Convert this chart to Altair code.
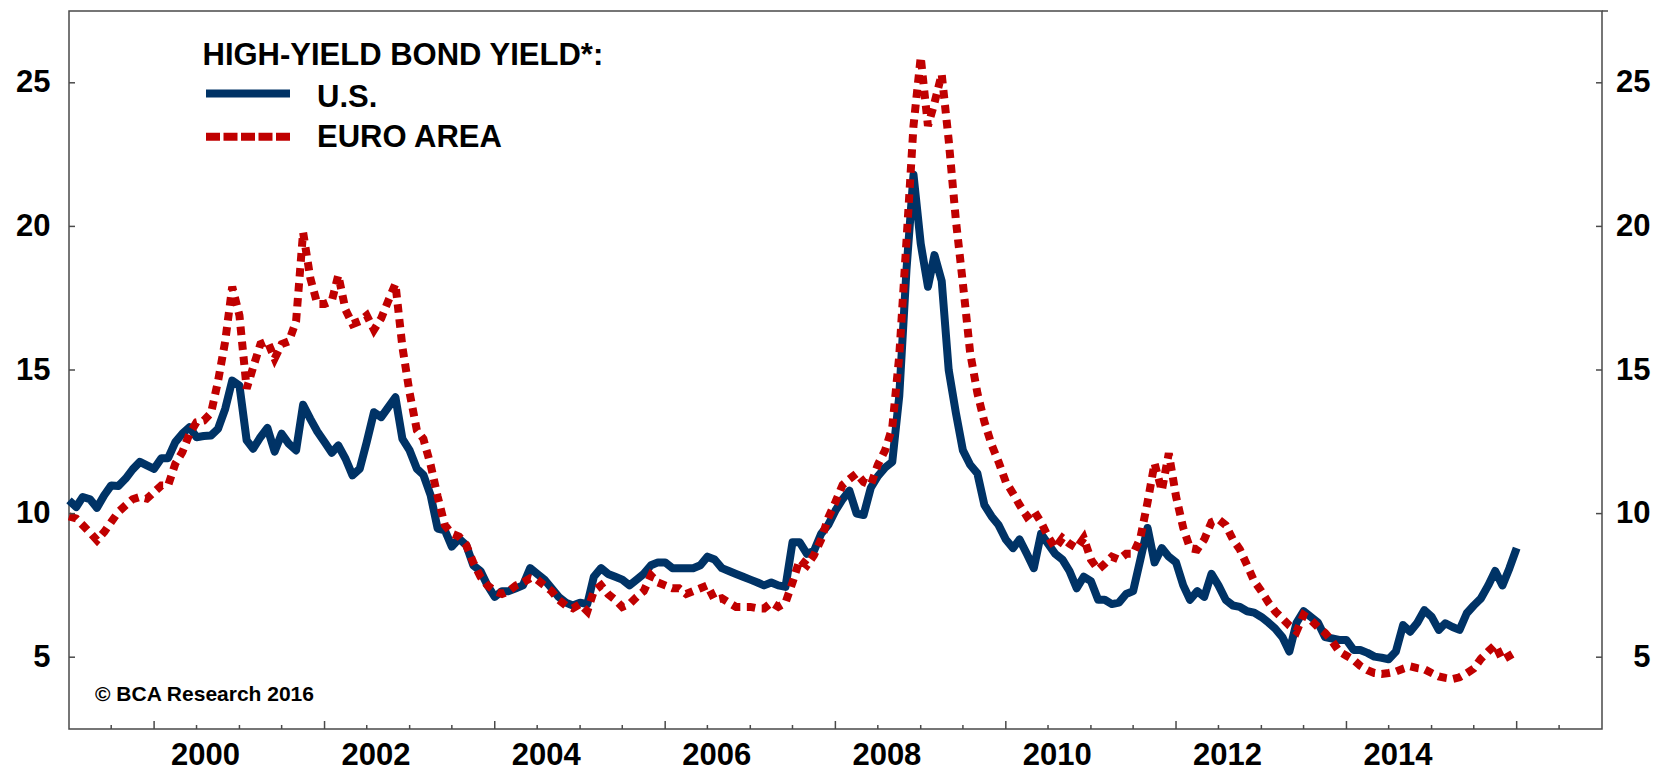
import altair as alt
import pandas as pd

# ---------------- data ----------------
START = "1999-01-01"          # first monthly observation
SERIES = ["U.S.", "EURO AREA"]
COLORS = ["#003366", "#C00000"]

us_yield = [
    10.46, 10.23, 10.58, 10.5, 10.2, 10.64, 10.98, 10.96, 11.22, 11.54,
    11.8, 11.68, 11.56, 11.93, 11.93, 12.49, 12.78, 13.01, 12.66, 12.7,
    12.72, 12.95, 13.65, 14.63, 14.46, 12.55, 12.26, 12.66, 12.98, 12.16,
    12.78, 12.43, 12.2, 13.79, 13.3, 12.86, 12.49, 12.12, 12.37, 11.91,
    11.33, 11.56, 12.49, 13.53, 13.36, 13.7, 14.05, 12.6, 12.2, 11.56,
    11.35, 10.64, 9.48, 9.42, 8.85, 9.13,
    8.9, 8.2, 8.0, 7.5, 7.1, 7.3, 7.3, 7.4, 7.5, 8.1,
    7.9, 7.7, 7.4, 7.1, 6.9, 6.8, 6.9, 6.85, 7.8, 8.1,
    7.9, 7.8, 7.7, 7.5, 7.7, 7.9, 8.2, 8.3, 8.3, 8.1,
    8.1, 8.1, 8.1, 8.2, 8.5, 8.4, 8.1, 8.0, 7.9, 7.8,
    7.7, 7.6, 7.5, 7.6, 7.5, 7.45, 9.0, 9.0, 8.6, 8.7,
    9.3, 9.6, 10.1, 10.5, 10.8, 10.0, 9.95, 10.9, 11.3, 11.6,
    11.8, 14.1, 18.5, 21.8,
    19.4, 17.9, 19.0, 18.1, 15.0, 13.5, 12.2, 11.7, 11.4, 10.3,
    9.9, 9.6, 9.1, 8.8, 9.1, 8.6, 8.1, 9.3, 8.95, 8.6,
    8.4, 8.0, 7.4, 7.8, 7.65, 7.0, 7.0, 6.85, 6.9, 7.2,
    7.3, 8.4, 9.5, 8.3, 8.8, 8.5, 8.3, 7.5, 7.0, 7.3,
    7.1, 7.9, 7.5, 7.0, 6.8, 6.75, 6.6, 6.55, 6.4, 6.2,
    6.0, 5.7, 5.2, 6.2, 6.6, 6.4, 6.2, 5.7, 5.65, 5.6,
    5.6, 5.25, 5.25, 5.15, 5.02, 4.98, 4.93, 5.2, 6.12, 5.89,
    6.2, 6.64, 6.41, 5.95, 6.18, 6.05, 5.95, 6.53, 6.8, 7.05,
    7.5, 8.0, 7.5, 8.1, 8.8,
]

euro_yield = [
    9.9, 9.83, 9.6, 9.34, 9.07, 9.36, 9.71, 10.06, 10.29, 10.5,
    10.58, 10.52, 10.75, 10.98, 10.98, 11.74, 12.14, 12.78, 13.18, 13.24,
    13.5, 14.6, 16.0, 17.9, 16.9, 14.35, 15.1, 15.9, 16.0, 15.4,
    15.9, 16.0, 16.7, 19.8, 18.2, 17.3, 17.3, 17.4, 18.3, 17.1,
    16.6, 16.7, 16.9, 16.4, 16.8, 17.4, 18.0, 15.8, 14.2, 12.9,
    12.6, 11.7, 10.6, 9.6, 9.3, 9.2,
    8.9, 8.3, 7.8, 7.5, 7.3, 7.2, 7.3, 7.5, 7.6, 7.75,
    7.7, 7.5, 7.3, 7.0, 6.8, 6.7, 6.85, 6.6, 7.3, 7.5,
    7.2, 7.0, 6.75, 6.85, 7.1, 7.3, 7.85, 7.6, 7.5, 7.4,
    7.4, 7.2, 7.3, 7.4, 7.5, 7.0, 7.05, 6.9, 6.75, 6.75,
    6.75, 6.7, 6.7, 6.9, 6.75, 6.9, 7.6, 8.4, 8.2, 8.55,
    9.1, 9.85, 10.4, 11.0, 11.2, 11.4, 11.1, 11.0, 11.7, 12.2,
    13.0, 15.5, 19.5, 23.5,
    25.9, 23.5, 24.3, 25.3, 23.0, 20.2, 18.0, 15.6, 14.2, 13.2,
    12.4, 11.8, 11.1, 10.7, 10.3, 9.9, 10.1, 9.7, 9.2, 8.8,
    9.15, 8.95, 8.8, 9.15, 8.4, 8.05, 8.25, 8.5, 8.4, 8.6,
    8.6, 9.15, 10.4, 11.75, 10.8, 12.1, 10.6, 9.5, 8.8, 8.75,
    9.1, 9.7, 9.8, 9.6, 9.1, 8.75, 8.2, 7.65, 7.3, 6.9,
    6.6, 6.35, 6.1, 5.9, 6.47, 6.3, 6.05, 5.85, 5.55, 5.2,
    5.05, 4.9, 4.7, 4.55, 4.45, 4.42, 4.45, 4.5, 4.6, 4.68,
    4.62, 4.58, 4.45, 4.33, 4.28, 4.24, 4.3, 4.44, 4.6, 4.95,
    5.2, 5.43, 4.91, 5.05, 5.2,
]

y_tick_values = [5, 10, 15, 20, 25]
label_years = [2000, 2002, 2004, 2006, 2008, 2010, 2012, 2014]
major_tick_years = [2000, 2002, 2004, 2006, 2008, 2010, 2012, 2014, 2016]
minor_tick_dates = ["1999-07-01"] + [
    f"{y}-{m:02d}-01" for y in range(2000, 2017) for m in (1, 7)
    if not (m == 1 and y in major_tick_years)
]

TITLE = "HIGH-YIELD BOND YIELD*:"
COPYRIGHT = "\u00a9 BCA Research 2016"

# ---------------- layout ----------------
W, H = 1533, 718
FONT = "Liberation Sans"
Y_DOMAIN = [2.5, 27.5]
FRAME = "#4a4a4a"

dates = pd.date_range(START, periods=len(us_yield), freq="MS")
df_us = pd.DataFrame({"date": dates, "value": us_yield, "series": SERIES[0]})
df_eu = pd.DataFrame({"date": dates, "value": euro_yield, "series": SERIES[1]})

x_scale = alt.Scale(domain=[alt.DateTime(year=1999, month=1, date=1),
                            alt.DateTime(year=2017, month=1, date=1)])

x_axis = alt.Axis(
    values=[alt.DateTime(year=y, month=1, date=1) for y in label_years],
    format="%Y", labelOffset=51, ticks=False, domain=False, grid=False,
    labelFontSize=31, labelFont=FONT, labelFontWeight="bold", labelColor="black",
    labelPadding=11, labelFlush=False, labelOverlap=False, title=None,
)
y_left_axis = alt.Axis(
    orient="left", values=y_tick_values, ticks=False, domain=False, grid=False,
    labelFontSize=31, labelFont=FONT, labelFontWeight="bold", labelColor="black",
    labelPadding=19, title=None,
)
y_right_axis = alt.Axis(
    orient="right", values=y_tick_values, ticks=False, domain=False, grid=False,
    labelFontSize=31, labelFont=FONT, labelFontWeight="bold", labelColor="black",
    labelPadding=48, labelAlign="right", title=None,
)


def xenc(field):
    return alt.X(field, scale=x_scale, axis=x_axis)


def yenc(field, axis=None):
    return alt.Y(field, scale=alt.Scale(domain=Y_DOMAIN, nice=False, zero=False), axis=axis)


us_line = alt.Chart(df_us).mark_line(
    strokeWidth=8, color=COLORS[0], strokeJoin="round", strokeCap="butt"
).encode(x=xenc("date:T"), y=yenc("value:Q", y_left_axis))

eu_line = alt.Chart(df_eu).mark_line(
    strokeWidth=8, color=COLORS[1], strokeDash=[8.5, 6.5], strokeJoin="miter",
    strokeCap="butt"
).encode(x=xenc("date:T"), y=yenc("value:Q"))

# tick marks drawn inward, as in the original
yt = pd.DataFrame({"v": y_tick_values})
left_ticks = alt.Chart(yt).mark_rule(color=FRAME, strokeWidth=1.5).encode(
    y=yenc("v:Q"), x=alt.value(0), x2=alt.value(6))
right_ticks = alt.Chart(yt).mark_rule(color=FRAME, strokeWidth=1.5).encode(
    y=yenc("v:Q", y_right_axis), x=alt.value(W - 6), x2=alt.value(W))

major = pd.DataFrame({"d": [pd.Timestamp(year=y, month=1, day=1) for y in major_tick_years]})
minor = pd.DataFrame({"d": pd.to_datetime(minor_tick_dates)})
major_ticks = alt.Chart(major).mark_rule(color=FRAME, strokeWidth=1.5).encode(
    x=xenc("d:T"), y=alt.value(H), y2=alt.value(H - 8))
minor_ticks = alt.Chart(minor).mark_rule(color=FRAME, strokeWidth=1.5).encode(
    x=xenc("d:T"), y=alt.value(H), y2=alt.value(H - 4))
# the top border runs a little past the right-hand axis
top_stub = alt.Chart(pd.DataFrame({"s": ["frame"]})).mark_rule(
    color=FRAME, strokeWidth=1.5).encode(x=alt.value(W), x2=alt.value(W + 6), y=alt.value(0))

# legend block (title + two keyed entries)
txt = dict(font=FONT, fontWeight="bold", color="black", align="left", baseline="alphabetic")
title_mark = alt.Chart(pd.DataFrame({"t": [TITLE]})).mark_text(fontSize=31, **txt).encode(
    text="t:N", x=alt.value(133.5), y=alt.value(54))
leg_us_line = alt.Chart(pd.DataFrame({"s": [SERIES[0]]})).mark_rule(
    strokeWidth=8, color=COLORS[0]).encode(
    x=alt.value(137), x2=alt.value(221), y=alt.value(82.5))
leg_eu_line = alt.Chart(pd.DataFrame({"s": [SERIES[1]]})).mark_rule(
    strokeWidth=8, color=COLORS[1], strokeDash=[14, 3.5]).encode(
    x=alt.value(137), x2=alt.value(221), y=alt.value(125.7))
leg_us_txt = alt.Chart(pd.DataFrame({"s": [SERIES[0]]})).mark_text(fontSize=31, **txt).encode(
    text="s:N", x=alt.value(248), y=alt.value(95.7))
leg_eu_txt = alt.Chart(pd.DataFrame({"s": [SERIES[1]]})).mark_text(fontSize=31, **txt).encode(
    text="s:N", x=alt.value(248), y=alt.value(136.3))
copyright_mark = alt.Chart(pd.DataFrame({"t": [COPYRIGHT]})).mark_text(fontSize=21, **txt).encode(
    text="t:N", x=alt.value(26), y=alt.value(690))

chart = alt.layer(
    us_line, eu_line, left_ticks, right_ticks, major_ticks, minor_ticks, top_stub,
    title_mark, leg_us_line, leg_eu_line, leg_us_txt, leg_eu_txt, copyright_mark,
).resolve_scale(y="independent").properties(
    width=W, height=H,
    padding={"left": 61, "top": 3, "right": 49, "bottom": 42},
    autosize=alt.AutoSizeParams(type="none"),
).configure(font=FONT).configure_view(stroke=FRAME, strokeWidth=1.5)

chart.save("out.html", embed_options={"renderer": "svg", "actions": False})
